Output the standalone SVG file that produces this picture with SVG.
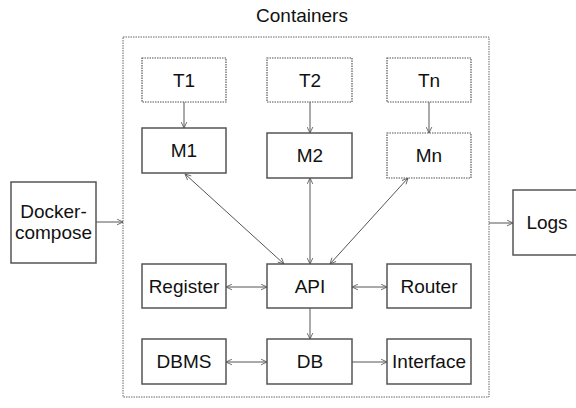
<svg xmlns="http://www.w3.org/2000/svg" width="576" height="408" viewBox="0 0 576 408">
  <style>
    .box { fill: #ffffff; stroke: #555555; stroke-width: 1.5; }
    .dot { fill: #ffffff; stroke: #555555; stroke-width: 1.2; stroke-dasharray: 1.5 1; }
    .frame { fill: none; stroke: #666666; stroke-width: 1; stroke-dasharray: 1.5 1; }
    .lbl { font-family: "Liberation Sans", Arial, sans-serif; font-size: 19px; fill: #111111; text-anchor: middle; }
    .edge { fill: none; stroke: #555555; stroke-width: 1; }
  </style>
  <defs>
    <marker id="head" viewBox="0 0 10 10" refX="9.5" refY="5" markerWidth="7" markerHeight="7" markerUnits="userSpaceOnUse" orient="auto-start-reverse">
      <path d="M1,1 L9.5,5 L1,9" fill="none" stroke="#555555" stroke-width="1.2"/>
    </marker>
  </defs>
  <rect width="576" height="408" fill="#ffffff"/>

  <g id="containers">
    <rect class="frame" x="123" y="37" width="366" height="360"/>
    <text class="lbl" x="302" y="22">Containers</text>
  </g>

  <g id="connectors">
    <line class="edge" x1="184" y1="102" x2="184" y2="128" marker-end="url(#head)"/>
    <line class="edge" x1="310" y1="102" x2="310" y2="133" marker-end="url(#head)"/>
    <line class="edge" x1="429" y1="102" x2="429" y2="133" marker-end="url(#head)"/>
    <line class="edge" x1="185" y1="174" x2="284" y2="264" marker-start="url(#head)" marker-end="url(#head)"/>
    <line class="edge" x1="310" y1="178" x2="310" y2="264" marker-start="url(#head)" marker-end="url(#head)"/>
    <line class="edge" x1="408" y1="178" x2="330" y2="264" marker-start="url(#head)" marker-end="url(#head)"/>
    <line class="edge" x1="226" y1="287" x2="267" y2="287" marker-start="url(#head)" marker-end="url(#head)"/>
    <line class="edge" x1="352" y1="287" x2="387" y2="287" marker-start="url(#head)" marker-end="url(#head)"/>
    <line class="edge" x1="310" y1="308" x2="310" y2="339" marker-end="url(#head)"/>
    <line class="edge" x1="226" y1="362" x2="267" y2="362" marker-start="url(#head)" marker-end="url(#head)"/>
    <line class="edge" x1="352" y1="362" x2="387" y2="362" marker-end="url(#head)"/>
    <line class="edge" x1="96" y1="222" x2="123" y2="222" marker-end="url(#head)"/>
    <line class="edge" x1="489" y1="223" x2="513" y2="223" marker-end="url(#head)"/>
  </g>

  <g id="t1"><rect class="dot" x="142" y="58" width="84" height="44"/><text class="lbl" x="184" y="87">T1</text></g>
  <g id="t2"><rect class="dot" x="267" y="58" width="85" height="44"/><text class="lbl" x="310" y="87">T2</text></g>
  <g id="tn"><rect class="dot" x="387" y="58" width="84" height="44"/><text class="lbl" x="429" y="87">Tn</text></g>

  <g id="m1"><rect class="box" x="142" y="128" width="84" height="45"/><text class="lbl" x="184" y="157">M1</text></g>
  <g id="m2"><rect class="box" x="267" y="133" width="85" height="45"/><text class="lbl" x="310" y="162">M2</text></g>
  <g id="mn"><rect class="dot" x="387" y="133" width="84" height="45"/><text class="lbl" x="429" y="162">Mn</text></g>

  <g id="register"><rect class="box" x="142" y="264" width="84" height="44"/><text class="lbl" x="184" y="293">Register</text></g>
  <g id="api"><rect class="box" x="267" y="264" width="85" height="44"/><text class="lbl" x="310" y="293">API</text></g>
  <g id="router"><rect class="box" x="387" y="264" width="84" height="44"/><text class="lbl" x="429" y="293">Router</text></g>

  <g id="dbms"><rect class="box" x="142" y="339" width="84" height="45"/><text class="lbl" x="184" y="368">DBMS</text></g>
  <g id="db"><rect class="box" x="267" y="339" width="85" height="45"/><text class="lbl" x="310" y="368">DB</text></g>
  <g id="interface"><rect class="box" x="387" y="339" width="84" height="45"/><text class="lbl" x="429" y="368">Interface</text></g>

  <g id="docker-compose">
    <rect class="box" x="11" y="182" width="85" height="81"/>
    <text class="lbl" x="53.5" y="218">Docker-</text>
    <text class="lbl" x="53.5" y="239">compose</text>
  </g>

  <g id="logs">
    <rect class="box" x="513" y="190" width="70" height="65"/>
    <text class="lbl" x="547" y="229">Logs</text>
  </g>
</svg>
